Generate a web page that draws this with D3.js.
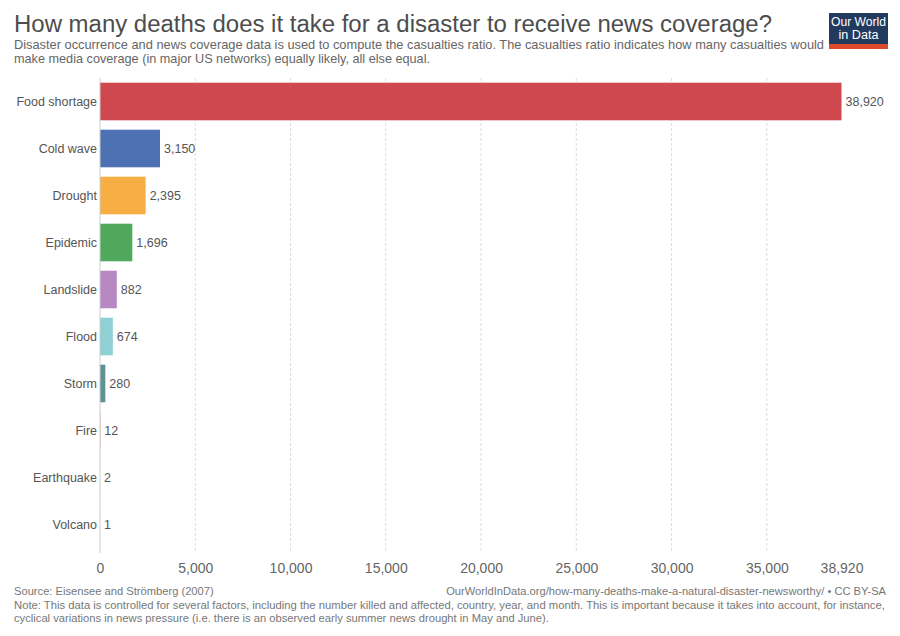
<!DOCTYPE html>
<html>
<head>
<meta charset="utf-8">
<script src="https://cdn.jsdelivr.net/npm/d3@7"></script>
<style>
  body { margin: 0; background: #fff; }
  text { font-family: "Liberation Sans", Arial, sans-serif; }
</style>
</head>
<body>
<svg id="chart" width="900" height="636"></svg>
<script>
// disaster types, top to bottom
var categories = ["Food shortage", "Cold wave", "Drought", "Epidemic", "Landslide",
                  "Flood", "Storm", "Fire", "Earthquake", "Volcano"];
// casualties ratio
var values = [38920, 3150, 2395, 1696, 882, 674, 280, 12, 2, 1];
var barColors = ["#cf484e", "#4e71b3", "#f6ae45", "#4fa85c", "#b888c2",
                 "#8ed0d4", "#5e9394", "#c05917", "#58ac8c", "#286bbb"];
var tickValues = [0, 5000, 10000, 15000, 20000, 25000, 30000, 35000, 38920];

var svg = d3.select("#chart");
var fmt = d3.format(",");

// squeeze a text line to a given width (the reference font is narrower)
function fit(sel, w) {
  sel.attr("textLength", w).attr("lengthAdjust", "spacingAndGlyphs");
}
// shrink the font so the line is no wider than w
function shrink(sel, w) {
  var n = sel.node(), fs = +sel.attr("font-size"), len = n.getComputedTextLength();
  if (len > w) sel.attr("font-size", (fs * w / len).toFixed(2));
}

// header
svg.append("text").attr("x", 14).attr("y", 32)
  .attr("font-size", 23).attr("fill", "#4d4d4d")
  .text("How many deaths does it take for a disaster to receive news coverage?")
  .call(fit, 758);
svg.append("text").attr("x", 14).attr("y", 49)
  .attr("font-size", 13).attr("fill", "#666")
  .text("Disaster occurrence and news coverage data is used to compute the casualties ratio. The casualties ratio indicates how many casualties would")
  .call(fit, 810);
svg.append("text").attr("x", 14).attr("y", 63)
  .attr("font-size", 13).attr("fill", "#666")
  .text("make media coverage (in major US networks) equally likely, all else equal.")
  .call(fit, 416);

// logo
var logo = svg.append("g").attr("transform", "translate(829,13)");
logo.append("rect").attr("width", 59).attr("height", 36).attr("fill", "#233a5f");
logo.append("rect").attr("y", 31).attr("width", 59).attr("height", 5).attr("fill", "#dd4a2a");
logo.append("text").attr("x", 29.5).attr("y", 13).attr("text-anchor", "middle")
  .attr("font-size", 12).attr("fill", "#fff").text("Our World").call(fit, 55);
logo.append("text").attr("x", 29.5).attr("y", 26).attr("text-anchor", "middle")
  .attr("font-size", 12).attr("fill", "#fff").text("in Data").call(fit, 40);

// scales
var x = d3.scaleLinear().domain([0, 38920]).range([100, 841.5]);
var y = d3.scaleBand().domain(categories).range([78, 548]).paddingInner(0.2).paddingOuter(0.1);

// grid
svg.append("g").selectAll("line")
  .data(tickValues.filter(function(d) { return d > 0 && d < 38920; }))
  .enter().append("line")
  .attr("x1", function(d) { return x(d); }).attr("x2", function(d) { return x(d); })
  .attr("y1", 78).attr("y2", 553)
  .attr("stroke", "#ddd").attr("stroke-dasharray", "3,2");

// x axis labels
var xAxis = d3.axisBottom(x).tickValues(tickValues).tickFormat(fmt).tickSize(0).tickPadding(0);
var ax = svg.append("g").attr("transform", "translate(0,563)").call(xAxis);
ax.select(".domain").remove();
ax.selectAll("text").attr("font-size", 14).attr("fill", "#666")
  .style("font-family", "Liberation Sans, Arial, sans-serif");

// bars
svg.append("g").selectAll("rect")
  .data(values)
  .enter().append("rect")
  .attr("x", x(0))
  .attr("y", function(d, i) { return y(categories[i]); })
  .attr("width", function(d) { return x(d) - x(0); })
  .attr("height", y.bandwidth())
  .attr("fill", function(d, i) { return barColors[i]; });

// value labels
svg.append("g").selectAll("text")
  .data(values)
  .enter().append("text")
  .attr("x", function(d) { return x(d) + 4; })
  .attr("y", function(d, i) { return y(categories[i]) + y.bandwidth() / 2; })
  .attr("dy", "0.35em")
  .attr("font-size", 12.5).attr("fill", "#555")
  .text(function(d) { return fmt(d); });

// category labels
svg.append("g").selectAll("text")
  .data(categories)
  .enter().append("text")
  .attr("x", 97)
  .attr("y", function(d) { return y(d) + y.bandwidth() / 2; })
  .attr("dy", "0.35em")
  .attr("text-anchor", "end")
  .attr("font-size", 12.5).attr("fill", "#555")
  .text(function(d) { return d; });

// zero line
svg.append("line").attr("x1", x(0)).attr("x2", x(0)).attr("y1", 78).attr("y2", 553)
  .attr("stroke", "#ccc");

// footer
svg.append("text").attr("x", 14).attr("y", 595)
  .attr("font-size", 11.5).attr("fill", "#777")
  .text("Source: Eisensee and Strömberg (2007)").call(shrink, 200);
svg.append("text").attr("x", 886).attr("y", 595).attr("text-anchor", "end")
  .attr("font-size", 11.5).attr("fill", "#777")
  .text("OurWorldInData.org/how-many-deaths-make-a-natural-disaster-newsworthy/ • CC BY-SA").call(shrink, 440);
svg.append("text").attr("x", 14).attr("y", 609)
  .attr("font-size", 11.5).attr("fill", "#777")
  .text("Note: This data is controlled for several factors, including the number killed and affected, country, year, and month. This is important because it takes into account, for instance,")
  .call(shrink, 872);
svg.append("text").attr("x", 14).attr("y", 622)
  .attr("font-size", 11.5).attr("fill", "#777")
  .text("cyclical variations in news pressure (i.e. there is an observed early summer news drought in May and June).")
  .call(shrink, 535);
</script>
</body>
</html>
